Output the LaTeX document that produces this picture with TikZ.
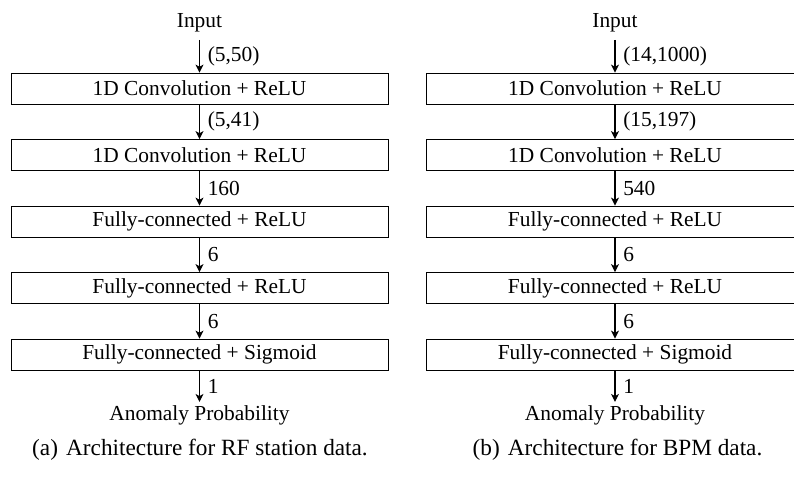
\documentclass[tikz,border=0pt]{standalone}
\usepackage{fontspec}
\setmainfont{Liberation Serif}
\usetikzlibrary{arrows.meta}
\begin{document}
\begin{tikzpicture}[x=0.43pt,y=-0.43pt,
  layer/.style={draw, line width=0.4pt, minimum width=377*0.43pt,
    minimum height=31*0.43pt, inner sep=0pt,
    font=\fontsize{9.2pt}{11pt}\selectfont},
  endpt/.style={anchor=base, font=\fontsize{9.2pt}{11pt}\selectfont},
  flow/.style={line width=0.45pt,
    -{Stealth[length=3.4pt,width=3.4pt,inset=0.9pt]}},
  dim/.style={right, font=\fontsize{9.2pt}{11pt}\selectfont},
  subcap/.style={anchor=base, font=\fontsize{10pt}{12pt}\selectfont}]
\clip (0,0) rectangle (794,477);

% two columns: RF station network (a) and BPM network (b)
\foreach \col/\xc/\capx/\la/\lb/\lc/\captext in {
    a/199.5/200/{(5,50)}/{(5,41)}/160/{(a)\hspace{0.35em}Architecture for RF station data.},
    b/615/617.5/{(14,1000)}/{(15,197)}/540/{(b)\hspace{0.35em}Architecture for BPM data.}}{
  \node[endpt] (\col in) at (\xc,27) {Input};
  \node[layer] (\col1) at (\xc,88.5)  {1D Convolution + ReLU};
  \node[layer] (\col2) at (\xc,155)   {1D Convolution + ReLU};
  \node[layer] (\col3) at (\xc,221.5) {Fully-connected + ReLU};
  \node[layer] (\col4) at (\xc,288)   {Fully-connected + ReLU};
  \node[layer] (\col5) at (\xc,354.5) {Fully-connected + Sigmoid};
  \node[endpt, inner sep=1.2pt] (\col out) at (\xc,420) {Anomaly Probability};
  \node[subcap] (\col cap) at (\capx,455.5) {\captext};

  \draw[flow] (\col in.south) -- node[dim] {\la} (\col1.north);
  \draw[flow] (\col1.south) -- node[dim] {\lb} (\col2.north);
  \draw[flow] (\col2.south) -- node[dim] {\lc} (\col3.north);
  \draw[flow] (\col3.south) -- node[dim] {6} (\col4.north);
  \draw[flow] (\col4.south) -- node[dim] {6} (\col5.north);
  \draw[flow] (\col5.south) -- node[dim] {1} (\col out.north);
}
\end{tikzpicture}
\end{document}
